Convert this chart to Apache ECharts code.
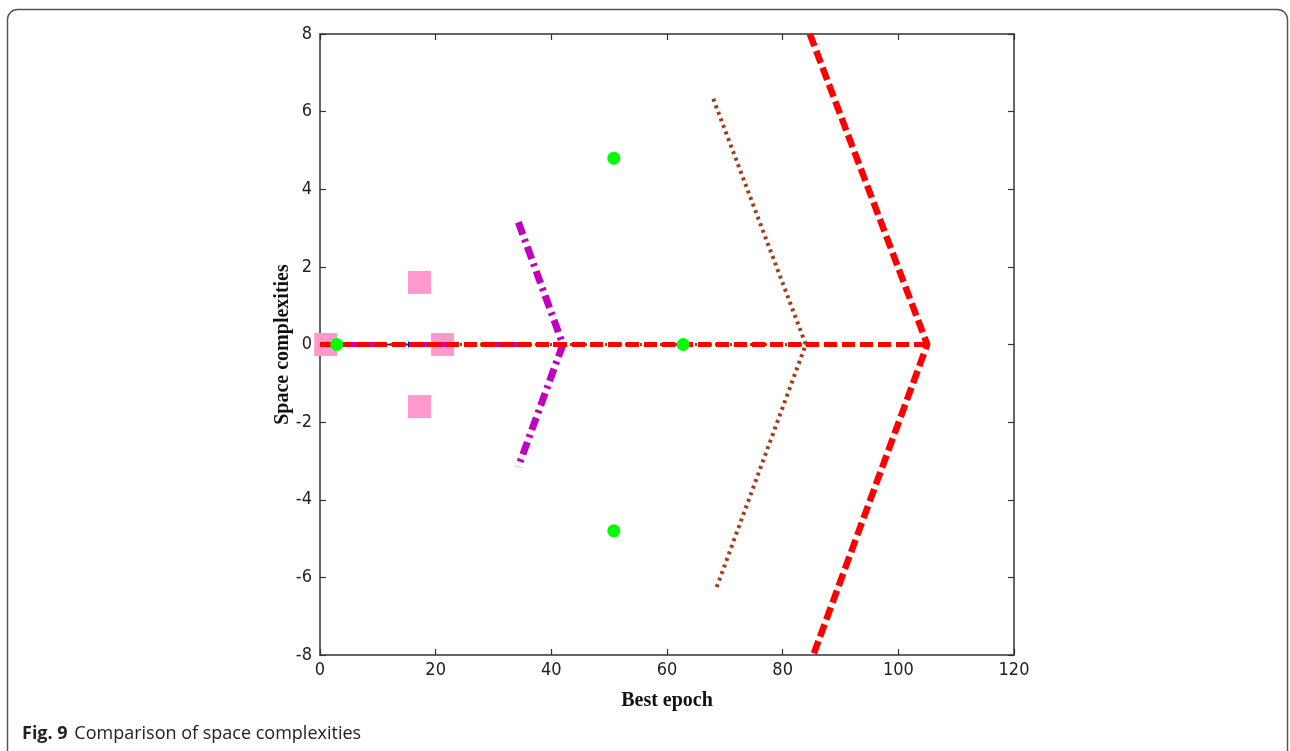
<!DOCTYPE html>
<html>
<head>
<meta charset="utf-8">
<script src="https://cdn.jsdelivr.net/npm/echarts@6/dist/echarts.min.js"></script>
<style>
  html, body { margin: 0; padding: 0; background: #fff; }
  #chart { width: 1290px; height: 751px; }
</style>
</head>
<body>
<div id="chart"></div>
<script>
// tick values
const xTicks = [0, 20, 40, 60, 80, 100, 120]
const yTicks = [-8, -6, -4, -2, 0, 2, 4, 6, 8]

// pink squares
const pinkPoints = [[1.0, 0], [17.2, 1.6], [17.2, -1.6], [21.2, 0]]
// green markers
const greenPoints = [[2.9, 0], [50.8, 4.8], [50.8, -4.8], [62.8, 0]]
// blue short line
const blueLine = [[1.2, 0], [15.3, 0]]
// magenta dash-dot
const magentaAxis = [[0, 0], [42, 0]]
const magentaFan = [[34.3, 3.15], [42, 0], [34.3, -3.15]]
// brown dotted
const brownAxis = [[0, 0], [84, 0]]
const brownFan = [[68.0, 6.33], [84, 0], [68.4, -6.33]]
// red dashed
const redAxis = [[0, 0], [105, 0]]
const redFan = [[84.7, 8], [105, 0], [85.3, -8]]

const chart = echarts.init(document.getElementById('chart'))

const tickFont = {
  color: '#222',
  fontSize: 18,
  fontFamily: 'Liberation Sans Narrow, DejaVu Sans Condensed, Liberation Sans, sans-serif'
}
const nameFont = {
  color: '#111',
  fontSize: 20,
  fontWeight: 'bold',
  fontFamily: 'Liberation Serif, DejaVu Serif, serif'
}
const axisLine = { show: true, onZero: false, lineStyle: { color: '#333', width: 1.5 } }
const axisTick = { show: true, inside: true, length: 6, lineStyle: { color: '#333', width: 1.2 } }

function lineSeries (data, color, width, type, z) {
  return {
    type: 'line',
    data: data,
    showSymbol: false,
    symbol: 'none',
    z: z,
    animation: false,
    lineStyle: { color: color, width: width, type: type, cap: 'butt' }
  }
}

const option = {
  animation: false,
  grid: { left: 320, top: 34, width: 694, height: 621 },
  xAxis: [
    {
      type: 'value',
      min: 0,
      max: 120,
      interval: 20,
      name: 'Best epoch',
      nameLocation: 'middle',
      nameGap: 36,
      nameMoveOverlap: false,
      nameTextStyle: nameFont,
      axisLine: axisLine,
      axisTick: axisTick,
      axisLabel: Object.assign({ margin: 6 }, tickFont),
      splitLine: { show: false }
    },
    {
      type: 'value',
      position: 'top',
      min: 0,
      max: 120,
      interval: 20,
      axisLine: axisLine,
      axisTick: axisTick,
      axisLabel: { show: false },
      splitLine: { show: false }
    }
  ],
  yAxis: [
    {
      type: 'value',
      min: -8,
      max: 8,
      interval: 2,
      name: 'Space complexities',
      nameLocation: 'middle',
      nameGap: 27,
      nameMoveOverlap: false,
      nameTextStyle: nameFont,
      axisLine: axisLine,
      axisTick: axisTick,
      axisLabel: Object.assign({ margin: 8 }, tickFont),
      splitLine: { show: false }
    },
    {
      type: 'value',
      position: 'right',
      min: -8,
      max: 8,
      interval: 2,
      axisLine: axisLine,
      axisTick: axisTick,
      axisLabel: { show: false },
      splitLine: { show: false }
    }
  ],
  series: [
    {
      type: 'scatter',
      data: pinkPoints,
      symbol: 'rect',
      symbolSize: 23,
      z: 1,
      itemStyle: { color: '#ff99cc', opacity: 1 }
    },
    {
      type: 'line',
      data: blueLine,
      symbol: 'path://M0,-1L0,1M-1,0L1,0',
      symbolSize: 6,
      showSymbol: true,
      z: 2,
      lineStyle: { color: '#0000ff', width: 1.5 },
      itemStyle: { color: '#0000ff', borderColor: '#0000ff', borderWidth: 1 }
    },
    lineSeries(magentaAxis, '#c000c0', 5, [12, 5, 2, 5], 3),
    lineSeries(magentaFan, '#c000c0', 7, [13, 5, 3, 5], 3),
    lineSeries(brownAxis, '#a0401a', 3, [2, 3], 4),
    lineSeries(brownFan, '#a0401a', 4, [3, 4], 4),
    lineSeries(redAxis, '#ff0000', 5, [13, 5], 5),
    lineSeries(redFan, '#ff0000', 6.5, [13, 5], 5),
    {
      type: 'scatter',
      data: greenPoints,
      symbol: 'circle',
      symbolSize: 13,
      z: 6,
      itemStyle: { color: '#00ff00', opacity: 1 }
    }
  ],
  graphic: [
    {
      type: 'rect',
      shape: { x: 7.5, y: 9.5, width: 1280, height: 800, r: 10 },
      style: { fill: 'none', stroke: '#555', lineWidth: 1.5 },
      silent: true
    },
    {
      type: 'text',
      left: 22,
      top: 725,
      style: {
        text: '{b|Fig. 9}  {n|Comparison of space complexities}',
        rich: {
          b: { fontFamily: 'Open Sans', fontWeight: 'bold', fontSize: 18, fill: '#222' },
          n: { fontFamily: 'Open Sans', fontSize: 18, fill: '#222' }
        }
      }
    }
  ]
}

chart.setOption(option)
</script>
</body>
</html>
